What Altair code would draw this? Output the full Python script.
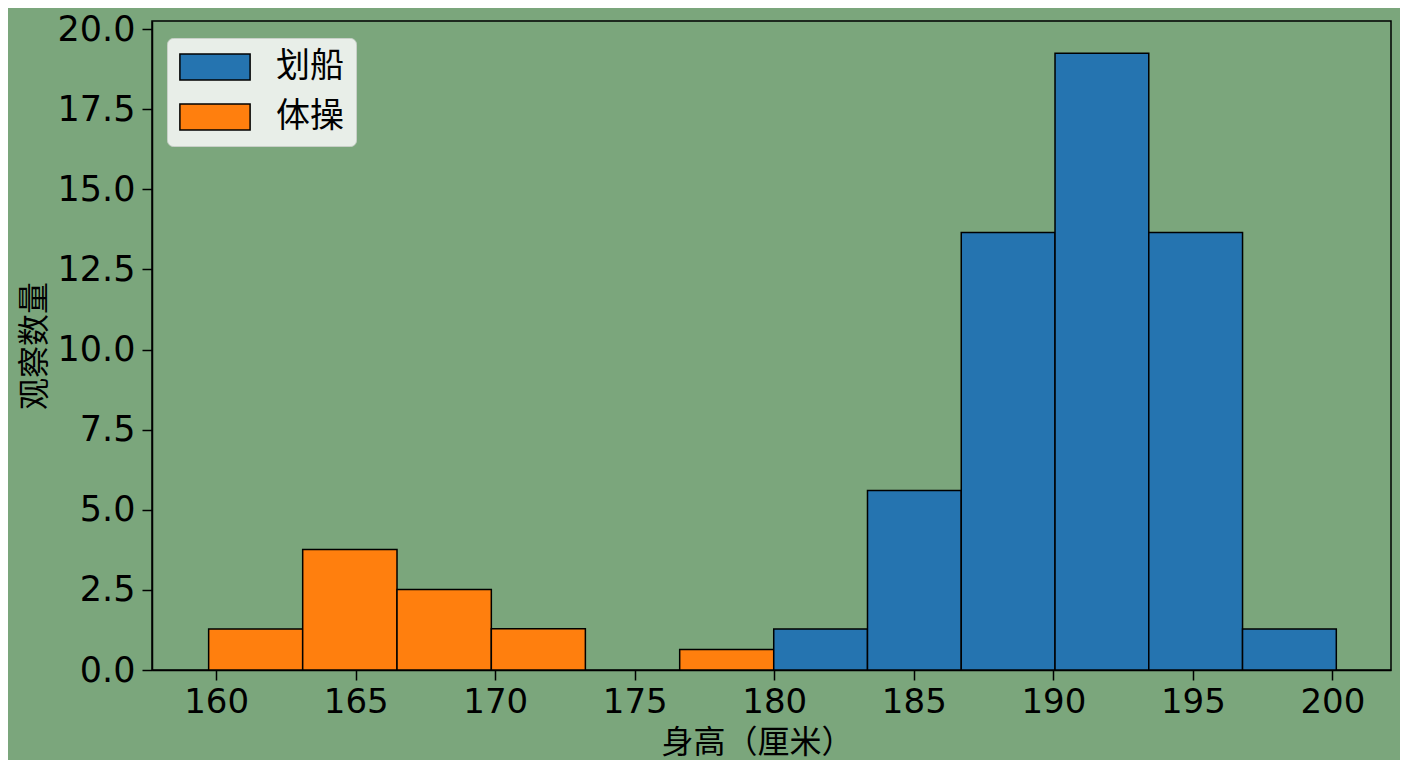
import altair as alt
import pandas as pd

gym_bin_start = [159.73, 163.10, 166.48, 169.86, 173.23, 176.61]
gym_bin_end = [163.10, 166.48, 169.86, 173.23, 176.61, 179.98]
gym_counts = [1.28, 3.76, 2.51, 1.29, 0.0, 0.64]

row_bin_start = [179.98, 183.34, 186.70, 190.06, 193.42, 196.78]
row_bin_end = [183.34, 186.70, 190.06, 193.42, 196.78, 200.14]
row_counts = [1.28, 5.60, 13.65, 19.24, 13.65, 1.28]

groups = ["划船", "体操"]
colors = ["#2574b0", "#ff7f0e"]

x_ticks = [160, 165, 170, 175, 180, 185, 190, 195, 200]
y_ticks = [0, 2.5, 5, 7.5, 10, 12.5, 15, 17.5, 20]

rows = []
for s, e, c in zip(gym_bin_start, gym_bin_end, gym_counts):
    rows.append({"start": s, "end": e, "count": c, "sport": "体操"})
for s, e, c in zip(row_bin_start, row_bin_end, row_counts):
    rows.append({"start": s, "end": e, "count": c, "sport": "划船"})
df = pd.DataFrame(rows)
df = df[df["count"] > 0]

cjk = "Noto Sans CJK SC"
num_font = "DejaVu Sans"

chart = alt.Chart(df).mark_rect(stroke="black", strokeWidth=1.5).encode(
    x=alt.X("start:Q",
            scale=alt.Scale(domain=[157.7, 202.1], nice=False, zero=False),
            axis=alt.Axis(title="身高（厘米）", values=x_ticks, format="d",
                          grid=False, tickSize=10, tickWidth=1.5, tickColor="black",
                          domainColor="black", domainWidth=1.5,
                          labelFont=num_font, labelFontSize=34, labelColor="black",
                          labelPadding=5, titleFont=cjk, titleFontSize=32,
                          titleFontWeight="normal", titleColor="black",
                          titlePadding=8, titleX=605, titleAlign="center",
                          labelFlush=False)),
    x2="end:Q",
    y=alt.Y("count:Q",
            scale=alt.Scale(domain=[0, 20.25], nice=False),
            axis=alt.Axis(title="观察数量", values=y_ticks, format=".1f",
                          grid=False, tickSize=10, tickWidth=1.5, tickColor="black",
                          domainColor="black", domainWidth=1.5,
                          labelFont=num_font, labelFontSize=35, labelColor="black",
                          labelPadding=7, titleFont=cjk, titleFontSize=32,
                          titleFontWeight="normal", titleColor="black",
                          titlePadding=6, labelFlush=False)),
    y2=alt.datum(0),
    color=alt.Color("sport:N",
                    scale=alt.Scale(domain=groups, range=colors),
                    legend=alt.Legend(title=None, orient="none", legendX=15, legendY=17,
                                      fillColor="#e8eee8", strokeColor="#c8d0c8",
                                      cornerRadius=6, padding=12,
                                      symbolType="M-2.7,-1H2.7V1H-2.7Z",
                                      symbolSize=676, symbolStrokeColor="black",
                                      symbolStrokeWidth=1.5, symbolOpacity=1,
                                      symbolOffset=19,
                                      labelFont=cjk, labelFontSize=34,
                                      labelColor="black", labelOffset=44,
                                      rowPadding=16)),
).properties(
    width=1239,
    height=649,
    background="#7ba67c",
    padding={"left": 144, "top": 13, "right": 9, "bottom": 90},
    autosize=alt.AutoSizeParams(type="none"),
).configure_view(
    stroke="black", strokeWidth=1.5, fill="#7ba67c"
)

chart.save("out.html", embed_options={"renderer": "svg", "actions": False})
